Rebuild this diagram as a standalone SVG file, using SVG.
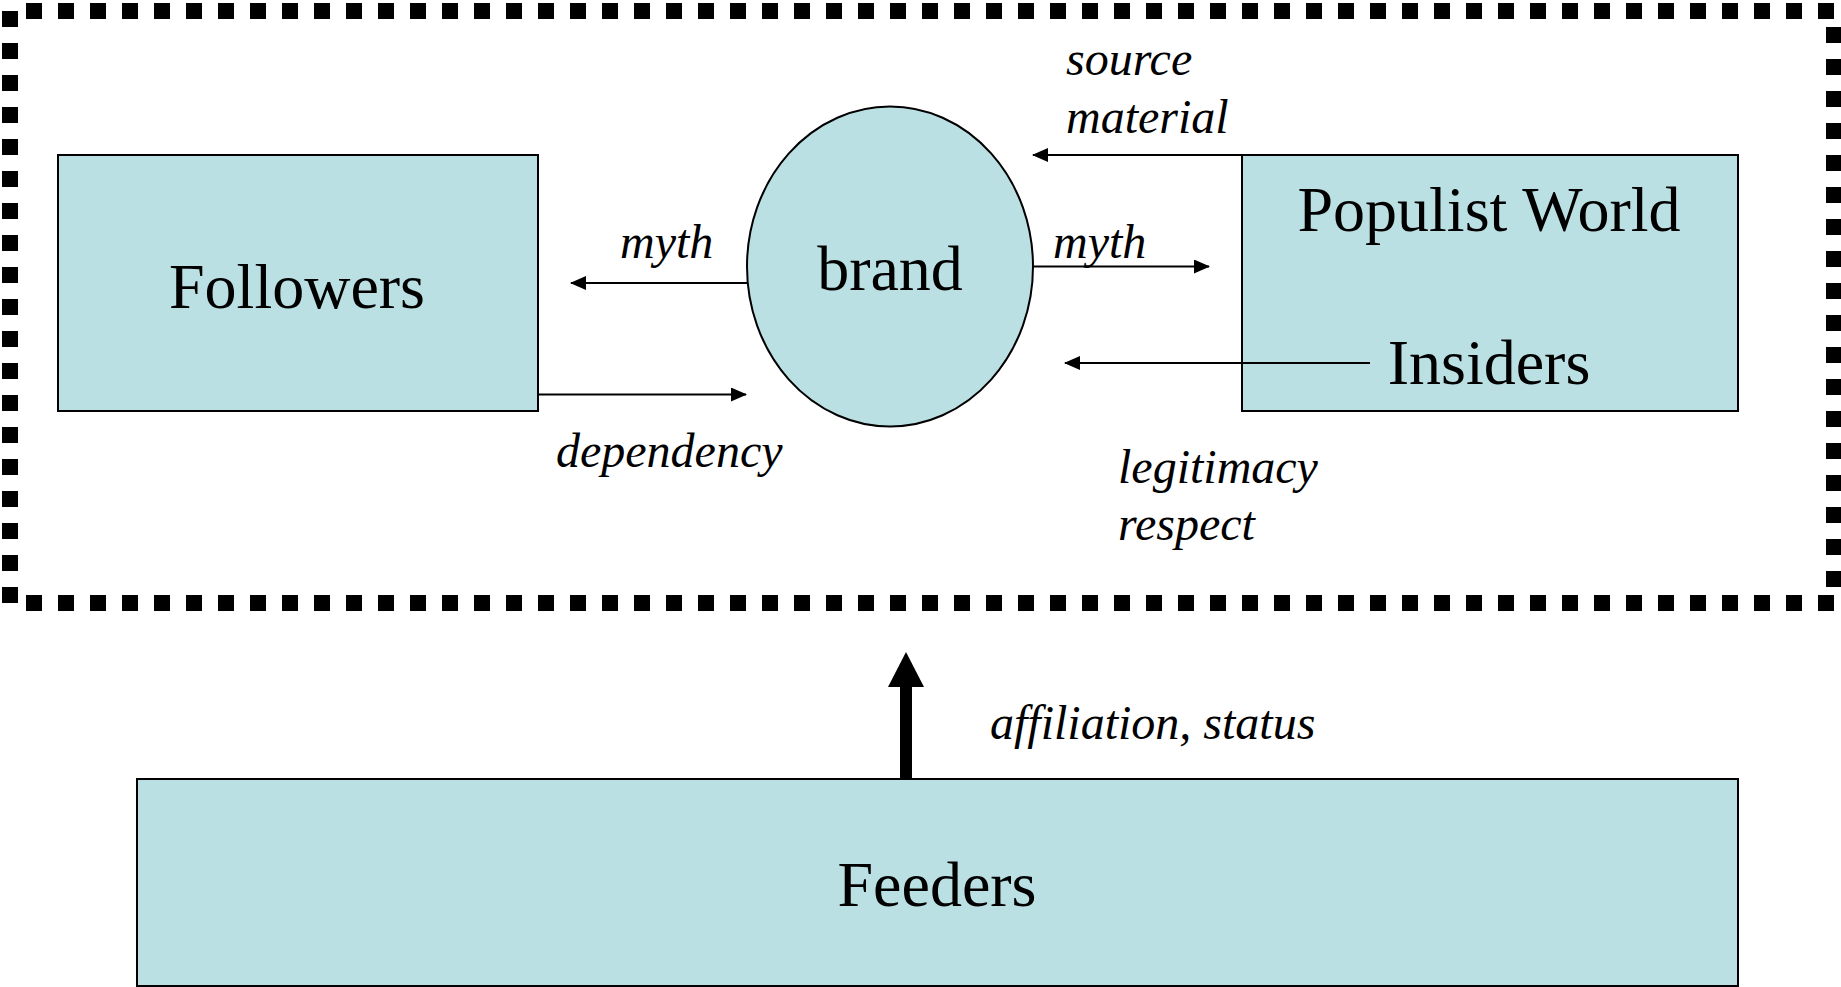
<svg xmlns="http://www.w3.org/2000/svg" width="1841" height="987" viewBox="0 0 1841 987">
<style>
.box{fill:#BBE0E3;stroke:#000;stroke-width:2}
.big{font-family:"Liberation Serif","Times New Roman",serif;font-size:64px;fill:#000;text-anchor:middle}
.lbl{font-family:"Liberation Serif","Times New Roman",serif;font-size:48px;font-style:italic;fill:#000}
.con{stroke:#000;stroke-width:2;fill:none;marker-end:url(#ah)}
.frame{stroke:#000;stroke-width:16;stroke-dasharray:16 16;fill:none}
</style>
<defs>
<marker id="ah" markerUnits="userSpaceOnUse" markerWidth="16" markerHeight="14" refX="15" refY="7" orient="auto">
<path d="M0,0 L16,7 L0,14 Z" fill="#000"/>
</marker>
</defs>
<rect width="1841" height="987" fill="#fff"/>
<g id="frame">
<line class="frame" x1="26" y1="11" x2="1834" y2="11"/>
<line class="frame" x1="10" y1="11" x2="10" y2="603"/>
<line class="frame" x1="1834" y1="27" x2="1834" y2="587"/>
<line class="frame" x1="26" y1="603" x2="1834" y2="603"/>
</g>
<g id="followers">
<rect class="box" x="58" y="155" width="480" height="256"/>
<text class="big" x="297" y="308">Followers</text>
</g>
<g id="brand">
<ellipse class="box" cx="890" cy="266.5" rx="143" ry="160"/>
<text class="big" x="890" y="290">brand</text>
</g>
<g id="populist">
<rect class="box" x="1242" y="155" width="496" height="256"/>
<text class="big" x="1489" y="231">Populist World</text>
<text class="big" x="1489" y="384">Insiders</text>
</g>
<g id="feeders">
<rect class="box" x="137" y="779" width="1601" height="207"/>
<text class="big" x="937" y="906">Feeders</text>
</g>
<g id="connectors">
<line class="con" x1="747" y1="283" x2="571" y2="283"/>
<line class="con" x1="538" y1="394.5" x2="746" y2="394.5"/>
<line class="con" x1="1033" y1="266.5" x2="1209" y2="266.5"/>
<line class="con" x1="1242" y1="155" x2="1033" y2="155"/>
<line class="con" x1="1370" y1="363" x2="1065" y2="363"/>
<rect x="900" y="686" width="12" height="93" fill="#000"/>
<polygon points="888,687 924,687 906,652" fill="#000"/>
</g>
<g id="labels">
<text class="lbl" x="620" y="258">myth</text>
<text class="lbl" x="1053" y="258">myth</text>
<text class="lbl" x="556" y="467">dependency</text>
<text class="lbl" x="1066" y="75">source</text>
<text class="lbl" x="1066" y="133">material</text>
<text class="lbl" x="1118" y="483">legitimacy</text>
<text class="lbl" x="1118" y="540">respect</text>
<text class="lbl" x="990" y="739">affiliation, status</text>
</g>
</svg>
